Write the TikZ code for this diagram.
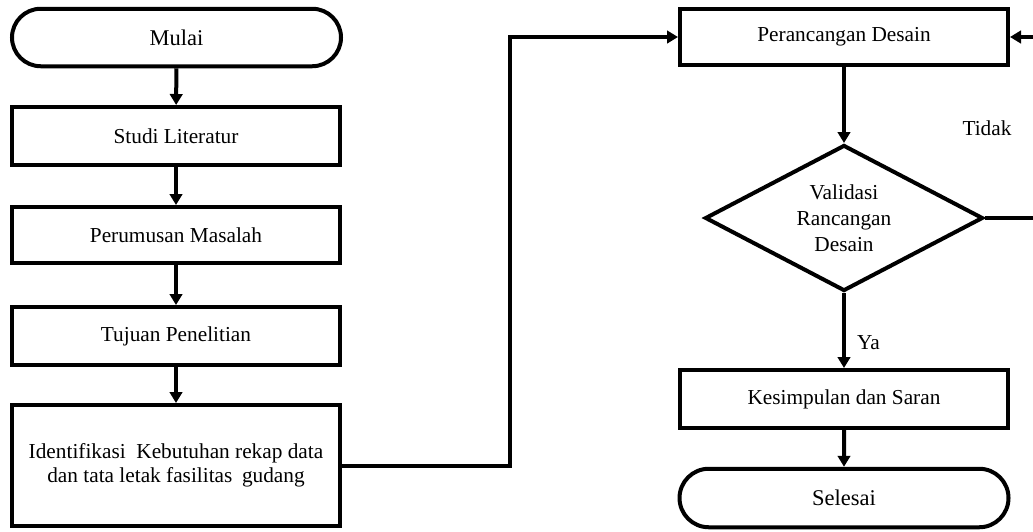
\documentclass[tikz,border=0pt]{standalone}
\usepackage{fontspec}
\setmainfont{Liberation Serif}
\usetikzlibrary{shapes.geometric,shapes.misc,arrows.meta}
\tikzset{
  lw/.style={line width=4pt},
  procbox/.style={draw, lw, rectangle, minimum width=328pt, inner sep=0pt, align=center, font=\fontsize{21.3}{25.5}\selectfont},
  termbox/.style={draw, lw, rounded rectangle, minimum width=329pt, minimum height=57.5pt, inner sep=0pt, font=\fontsize{22.5}{25.5}\selectfont},
  decbox/.style={draw, lw, diamond, aspect=1.88, minimum width=278pt, minimum height=146pt, inner sep=0pt, align=center, font=\fontsize{21.3}{26}\selectfont},
  lbl/.style={font=\fontsize{21.3}{25}\selectfont, inner sep=0pt},
  arr/.style={lw, -{Triangle[length=11pt,width=12.5pt]}},
  conn/.style={lw}
}
\begin{document}
\begin{tikzpicture}[x=1pt,y=-1pt]
\clip (0,0) rectangle (1033,531);
\fill[white] (0,0) rectangle (1033,531);
% left column
\node[termbox] (mulai) at (176.5,37.5) {Mulai};
\node[procbox, minimum height=58pt] (studi) at (176,136) {Studi Literatur};
\node[procbox, minimum height=56pt] (rumus) at (176,235) {Perumusan Masalah};
\node[procbox, minimum height=58pt] (tujuan) at (176,336) {Tujuan Penelitian};
\node[procbox, minimum height=121pt] (ident) at (176,465.5) {\raisebox{-4pt}{\begin{tabular}{@{}c@{}}Identifikasi\hspace{0.5em}Kebutuhan rekap data\\[-1.5pt] dan tata letak fasilitas\hspace{0.45em}gudang\end{tabular}}};
% right column
\node[procbox, minimum height=56pt] (rancang) at (844,37) {Perancangan Desain};
\node[decbox] (valid) at (844,218) {Validasi\\Rancangan\\Desain};
\node[procbox, minimum height=58pt] (simpul) at (844,399) {Kesimpulan dan Saran};
\node[termbox, minimum height=58.5pt] (selesai) at (844,498) {Selesai};
\node[lbl] (tidak) at (987,128) {Tidak};
% helper coordinates
\coordinate (bend1) at (510,250);
\coordinate (bend2) at (1046,120);
% connectors
\draw[arr] (mulai) -- (studi);
\draw[arr] (studi) -- (rumus);
\draw[arr] (rumus) -- (tujuan);
\draw[arr] (tujuan) -- (ident);
\draw[arr] (ident.east) -| (bend1) |- (rancang.west);
\draw[arr] (rancang) -- (valid);
\draw[arr] (valid.south) -- node[lbl, pos=0.66, right=11pt] (ya) {Ya} (simpul.north);
\draw[arr] (simpul) -- (selesai);
\draw[arr] (valid.east) -| (bend2) |- (rancang.east);
\end{tikzpicture}
\end{document}
